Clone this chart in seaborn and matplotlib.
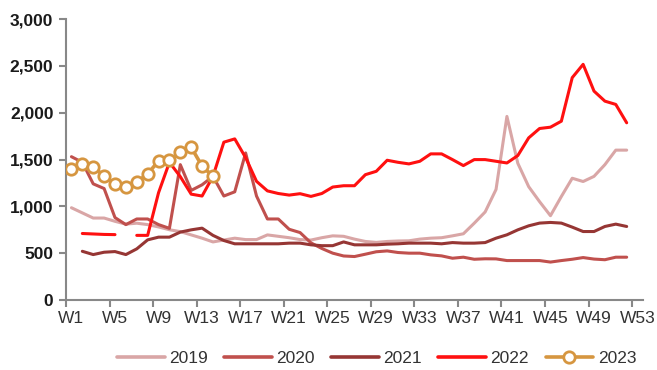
import numpy as np
import pandas as pd
import matplotlib
matplotlib.use("Agg")
import matplotlib.pyplot as plt
from matplotlib.lines import Line2D
from matplotlib.ticker import FuncFormatter
import seaborn as sns

nan = np.nan

weeks = list(range(1, 54))
tick_weeks = list(range(1, 54, 4))
tick_labels = [f"W{w}" for w in tick_weeks]

years = ["2019", "2020", "2021", "2022", "2023"]

y2019 = [985, 930, 875, 875, 840, 810, 820, 805, 780, 750, 730, 695, 660, 620,
         640, 660, 645, 645, 695, 680, 665, 645, 640, 665, 685, 680, 650, 625,
         615, 625, 630, 632, 650, 660, 665, 685, 707, 820, 940, 1180, 1960, 1460,
         1210, 1050, 900, 1105, 1300, 1265, 1320, 1445, 1600, 1600, nan]

y2020 = [1530, 1470, 1240, 1190, 880, 805, 865, 865, 805, 765, 1445, 1170, 1230,
         1320, 1110, 1155, 1570, 1110, 865, 865, 755, 720, 610, 550, 500, 470,
         464, 489, 515, 524, 507, 500, 500, 482, 471, 446, 457, 435, 440, 439,
         421, 421, 421, 421, 405, 421, 435, 453, 437, 430, 457, 457, nan]

y2021 = [nan, 520, 485, 510, 517, 485, 546, 642, 671, 671, 725, 749, 767, 690,
         635, 600, 600, 600, 600, 600, 607, 607, 589, 580, 580, 620, 589, 589,
         589, 596, 600, 607, 607, 607, 600, 613, 607, 607, 613, 660, 696, 749,
         792, 821, 828, 821, 778, 731, 731, 785, 810, 785, nan]

y2022 = [nan, 710, 705, 700, 698, nan, 690, 690, 1145, 1470, 1317, 1130, 1110,
         1320, 1685, 1720, 1520, 1267, 1165, 1137, 1120, 1135, 1106, 1137, 1206,
         1220, 1220, 1338, 1374, 1492, 1470, 1453, 1481, 1560, 1560, 1499, 1435,
         1499, 1499, 1481, 1463, 1542, 1731, 1831, 1845, 1909, 2374, 2516, 2230,
         2123, 2088, 1892, nan]

y2023 = [1395, 1450, 1420, 1325, 1240, 1205, 1260, 1345, 1485, 1490, 1580, 1630,
         1430, 1320] + [nan] * 39

colors = {
    "2019": "#D9A6A6",
    "2020": "#C0504D",
    "2021": "#963634",
    "2022": "#FF1010",
    "2023": "#D69640",
}

series = {"2019": y2019, "2020": y2020, "2021": y2021, "2022": y2022, "2023": y2023}

# long table; a new segment id starts after every gap so broken runs stay broken
rows = []
for yr, vals in series.items():
    seg = 0
    prev_nan = False
    for w, v in zip(weeks, vals):
        if np.isnan(v):
            prev_nan = True
            continue
        if prev_nan:
            seg += 1
            prev_nan = False
        rows.append({"week": w, "value": v, "year": yr, "segment": f"{yr}-{seg}"})
df = pd.DataFrame(rows)

sns.set_theme(style="white")
plt.rcParams["font.family"] = ["Liberation Sans", "DejaVu Sans"]

fig = plt.figure(figsize=(6.57, 3.70), dpi=100)
ax = fig.add_axes([66 / 657, 1 - 300 / 370, (643 - 66) / 657, (300 - 19) / 370])

hist = df[df["year"] != "2023"]
sns.lineplot(data=hist, x="week", y="value", hue="year", units="segment",
             estimator=None, palette=colors, linewidth=2.2, legend=False, ax=ax,
             sort=True)

cur = df[df["year"] == "2023"]
sns.lineplot(data=cur, x="week", y="value", color=colors["2023"], linewidth=2.6,
             marker="o", markersize=8.2, markerfacecolor="white",
             markeredgecolor=colors["2023"], markeredgewidth=2.0,
             legend=False, ax=ax, zorder=5)

ax.set_xlim(0.5, 53.5)
ax.set_ylim(0, 3000)
ax.set_xlabel("")
ax.set_ylabel("")

axis_grey = "#888888"
for side in ["top", "right"]:
    ax.spines[side].set_visible(False)
for side in ["left", "bottom"]:
    ax.spines[side].set_color(axis_grey)
    ax.spines[side].set_linewidth(1.5)

# tick marks sit on category boundaries, labels on category centres
ax.set_xticks([w - 0.5 for w in tick_weeks])
ax.set_xticklabels([])
ax.set_xticks(tick_weeks, minor=True)
ax.set_xticklabels(tick_labels, minor=True)
ax.tick_params(axis="x", which="major", length=5, width=1.5, color=axis_grey,
               direction="out", bottom=True)
ax.tick_params(axis="x", which="minor", length=0, pad=8, labelsize=12.5,
               labelcolor="#333333", bottom=True)

ax.set_yticks(np.arange(0, 3001, 500))
ax.yaxis.set_major_formatter(FuncFormatter(lambda v, p: f"{int(v):,}"))
ax.tick_params(axis="y", length=5, width=1.5, color=axis_grey, direction="out",
               left=True, pad=4, labelsize=12.5, labelcolor="#1a1a1a")
for lbl in ax.get_yticklabels():
    lbl.set_fontweight("bold")

handles = []
for yr in years:
    if yr == "2023":
        handles.append(Line2D([], [], color=colors[yr], linewidth=2.6, marker="o",
                              markersize=8.2, markerfacecolor="white",
                              markeredgecolor=colors[yr], markeredgewidth=2.0))
    else:
        handles.append(Line2D([], [], color=colors[yr], linewidth=2.6))

fig.legend(handles, years, loc="center", ncol=5, frameon=False,
           bbox_to_anchor=(376.5 / 657, 1 - 358 / 370), bbox_transform=fig.transFigure,
           fontsize=12.5, handlelength=2.75, handletextpad=0.25, columnspacing=0.95,
           borderpad=0, labelcolor="#333333")

fig.savefig("out.png", dpi=100, facecolor="white")
